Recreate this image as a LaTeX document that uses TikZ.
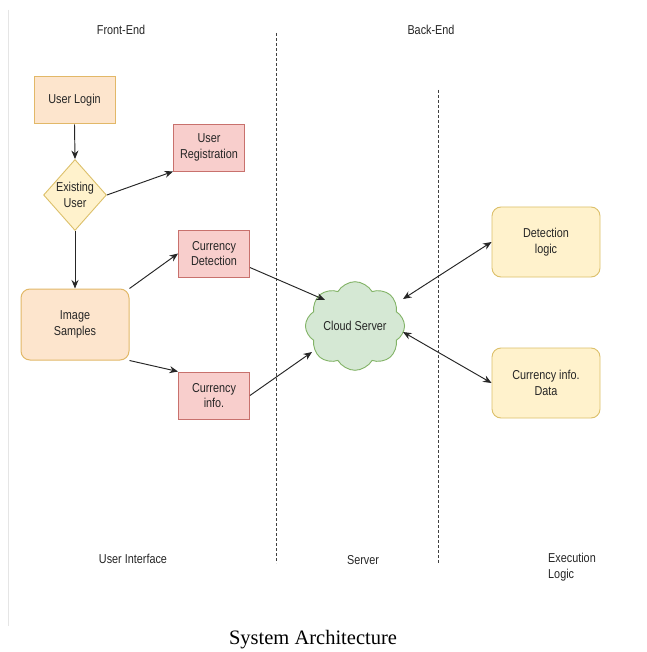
\documentclass[tikz,border=0pt]{standalone}
\usepackage{fontspec}
\setmainfont{Liberation Sans}[FakeStretch=0.84]
\newfontfamily\titlefont{Liberation Serif}
\usetikzlibrary{shapes.geometric,shapes.symbols,arrows.meta,calc}
\definecolor{peachfill}{HTML}{FDE5CD}
\definecolor{peachline}{HTML}{E2B868}
\definecolor{pinkfill}{HTML}{F8CECC}
\definecolor{pinkline}{HTML}{C8716D}
\definecolor{yelfill}{HTML}{FFF2CC}
\definecolor{yelline}{HTML}{DCC06A}
\definecolor{grnfill}{HTML}{D5E8D4}
\definecolor{grnline}{HTML}{82B366}
\tikzset{
  lbl/.style={font=\fontsize{12.9}{15.5}\selectfont, text=black!85, align=center},
  peachbox/.style={lbl, draw=peachline, fill=peachfill, line width=1pt, inner sep=0pt},
  pinkbox/.style={lbl, draw=pinkline, fill=pinkfill, line width=0.9pt, inner sep=0pt, minimum width=71pt, minimum height=47pt},
  yelbox/.style={lbl, draw=yelline, fill=yelfill, line width=0.9pt, inner sep=0pt, rounded corners=9pt, minimum width=108pt, minimum height=70pt},
  conn/.style={line width=0.95pt, black!85, -{Stealth[length=8.5pt,width=7pt]}},
  biconn/.style={line width=0.95pt, black!85, {Stealth[length=8.5pt,width=7pt]}-{Stealth[length=8.5pt,width=7pt]}},
  divider/.style={black!75, line width=0.7pt, dash pattern=on 3pt off 2pt},
}
\begin{document}
\begin{tikzpicture}[x=1pt,y=-1pt]
\useasboundingbox (0,0) rectangle (646,652);
\fill[white] (0,0) rectangle (646,652);
% faint frame line
\draw[black!10, line width=0.6pt] (8,10) -- (8,626);
% dividers
\coordinate (d1t) at (276,33);
\coordinate (d1b) at (276,563);
\coordinate (d2t) at (438,90);
\coordinate (d2b) at (438,563);
\draw[divider] (d1t) -- (d1b);
\draw[divider] (d2t) -- (d2b);
% headings
\node[lbl] (fe) at (121,30) {Front-End};
\node[lbl] (be) at (431,30) {Back-End};
\node[lbl] (ui) at (133,559) {User Interface};
\node[lbl] (sv) at (363,560) {Server};
\node[lbl, align=left, anchor=west, inner sep=0pt] (el) at (548,567) {Execution\\Logic};
% nodes
\node[peachbox, minimum width=81pt, minimum height=47pt] (login) at (74.5,100.5) {User Login};
\node[pinkbox] (reg) at (209,147.5) {User\\Registration};
\node[lbl, diamond, draw=yelline, fill=yelfill, line width=0.9pt, inner sep=0pt, minimum width=60pt, minimum height=71pt] (exist) at (75,195) {Existing\\User};
\node[peachbox, rounded corners=9pt, minimum width=108pt, minimum height=71pt] (img) at (75,324.5) {Image\\Samples};
\node[pinkbox] (cd) at (214,253.5) {Currency\\Detection};
\node[pinkbox] (ci) at (214,395.5) {Currency\\info.};
\node[lbl, cloud, cloud puffs=8, cloud puff arc=120, aspect=1.2, draw=grnline, fill=grnfill, line width=0.9pt, inner sep=0pt, minimum width=96pt, minimum height=80pt] (cloud) at (355,326) {Cloud Server};
\node[yelbox] (dl) at (546,242) {Detection\\logic};
\node[yelbox] (cid) at (546,383) {Currency info.\\Data};
% title
\node[font=\titlefont\fontsize{20.5}{24}\selectfont] (title) at (313,640) {System Architecture};
% connectors
\draw[conn] (login.south) -- (exist.north);
\draw[conn] (exist.east) -- (reg.south west);
\draw[conn] (exist.south) -- (img.north);
\draw[conn] (img.north east) -- (cd.west);
\draw[conn] (img.south east) -- (ci.north west);
\draw[conn] ($(cd.east)+(0,14)$) -- ($(cloud.center)+(-30,-26)$);
\draw[conn] (ci.east) -- ($(cloud.center)+(-43,26)$);
\draw[biconn] ($(cloud.center)+(48,-27)$) -- (dl.west);
\draw[biconn] ($(cloud.center)+(48,6)$) -- (cid.west);
\end{tikzpicture}
\end{document}
